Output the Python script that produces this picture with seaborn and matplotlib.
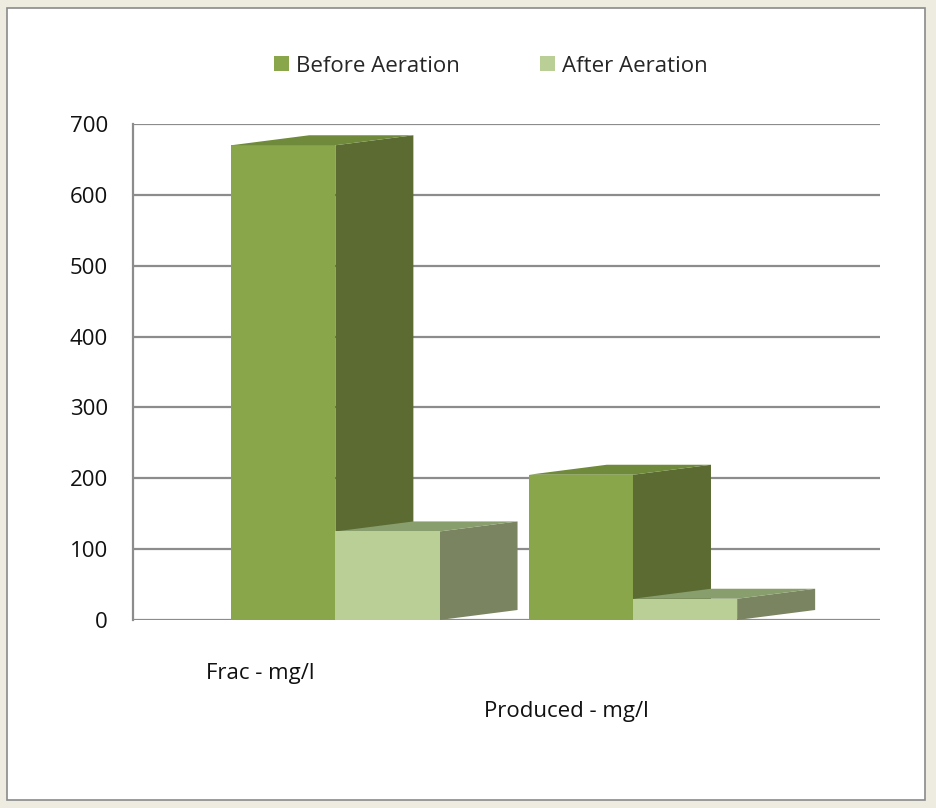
import numpy as np
import pandas as pd
import matplotlib
matplotlib.use("Agg")
import matplotlib.pyplot as plt
import seaborn as sns
from matplotlib.patches import Polygon, Rectangle, Patch

# ---- data ----
categories = ["Frac - mg/l", "Produced - mg/l"]
series = ["Before Aeration", "After Aeration"]
before_vals = [670, 205]
after_vals = [125, 30]
yticks = [0, 100, 200, 300, 400, 500, 600, 700]

front_colors = {"Before Aeration": "#8aa64b", "After Aeration": "#b9cf95"}
side_colors = {"Before Aeration": "#5b6b32", "After Aeration": "#7a8460"}
top_colors = {"Before Aeration": "#6f8a3a", "After Aeration": "#889e6c"}

df = pd.DataFrame({
    "category": categories * 2,
    "series": [series[0]] * 2 + [series[1]] * 2,
    "value": before_vals + after_vals,
})

sns.set_style("white")
plt.rcParams["font.family"] = ["Open Sans", "DejaVu Sans"]

W, H = 937, 808
fig = plt.figure(figsize=(W / 100, H / 100), dpi=100)
fig.patch.set_facecolor("#eeebe0")

# white panel with border
fig.add_artist(Rectangle((7 / W, 8 / H), (925 - 7) / W, (800 - 8) / H,
                         transform=fig.transFigure, facecolor="white",
                         edgecolor="#8a8a8a", linewidth=1.2, zorder=0))

ax = fig.add_axes([133 / W, (H - 620) / H, (880 - 133) / W, (620 - 124) / H])
ax.set_facecolor("none")

sns.barplot(data=df, x="category", y="value", hue="series", order=categories,
            hue_order=series, palette=front_colors, width=0.7, saturation=1,
            dodge=True, legend=False, ax=ax, zorder=3, linewidth=0)

ax.set_xlim(-0.68, 1.83)
ax.set_ylim(0, 700)
ax.set_yticks(yticks)
ax.set_yticklabels([str(t) for t in yticks], fontsize=16, color="#111111")
ax.tick_params(axis="y", length=0, pad=18)
ax.set_xticks([])
ax.set_xlabel("")
ax.set_ylabel("")
for k, s in ax.spines.items():
    s.set_visible(k == "left")
ax.spines["left"].set_color("#8c8c8c")
ax.spines["left"].set_linewidth(1.6)
for t in yticks:
    ax.axhline(t, color="#8c8c8c", linewidth=1.6, zorder=1)

# pseudo 3D depth faces, offset computed in display pixels
dpx, dpy = 78, 10
inv = ax.transData.inverted()
p0 = inv.transform(ax.transData.transform((0, 0)))
p1 = inv.transform(ax.transData.transform((0, 0)) + np.array([dpx, dpy]))
ddx, ddy = p1 - p0

bars = ax.patches
n = len(categories)
for i, bar in enumerate(bars[: 2 * n]):
    s = series[i // n]
    x0 = bar.get_x()
    w = bar.get_width()
    h = bar.get_height()
    x1 = x0 + w
    z = 3 + (i // n) * 2 + 0.5
    side = Polygon([(x1, 0), (x1 + ddx, ddy), (x1 + ddx, h + ddy), (x1, h)],
                   closed=True, facecolor=side_colors[s], edgecolor="none",
                   zorder=z)
    top = Polygon([(x0, h), (x1, h), (x1 + ddx, h + ddy), (x0 + ddx, h + ddy)],
                  closed=True, facecolor=top_colors[s], edgecolor="none",
                  zorder=z)
    ax.add_patch(side)
    ax.add_patch(top)
    bar.set_zorder(z + 0.3 if s == series[1] else z - 0.5)

# category labels
offsets_px = [(-75, -54), (-67, -91)]
for i, c in enumerate(categories):
    ox, oy = offsets_px[i]
    ax.annotate(c, xy=(i, 0), xycoords=("data", "axes fraction"),
                xytext=(ox * 0.72, oy * 0.72),
                textcoords="offset points", ha="center", va="center",
                fontsize=16, color="#111111", annotation_clip=False)

# legend
handles = [Patch(facecolor=front_colors[s], edgecolor="none") for s in series]
fig.legend(handles, series, loc="center", bbox_to_anchor=(491 / W, 1 - 66 / H),
           ncol=2, frameon=False, fontsize=16, handlelength=0.68,
           handleheight=0.68, handletextpad=0.32, columnspacing=3.6,
           borderpad=0, borderaxespad=0)

fig.savefig("out.png", dpi=100, facecolor=fig.get_facecolor())
